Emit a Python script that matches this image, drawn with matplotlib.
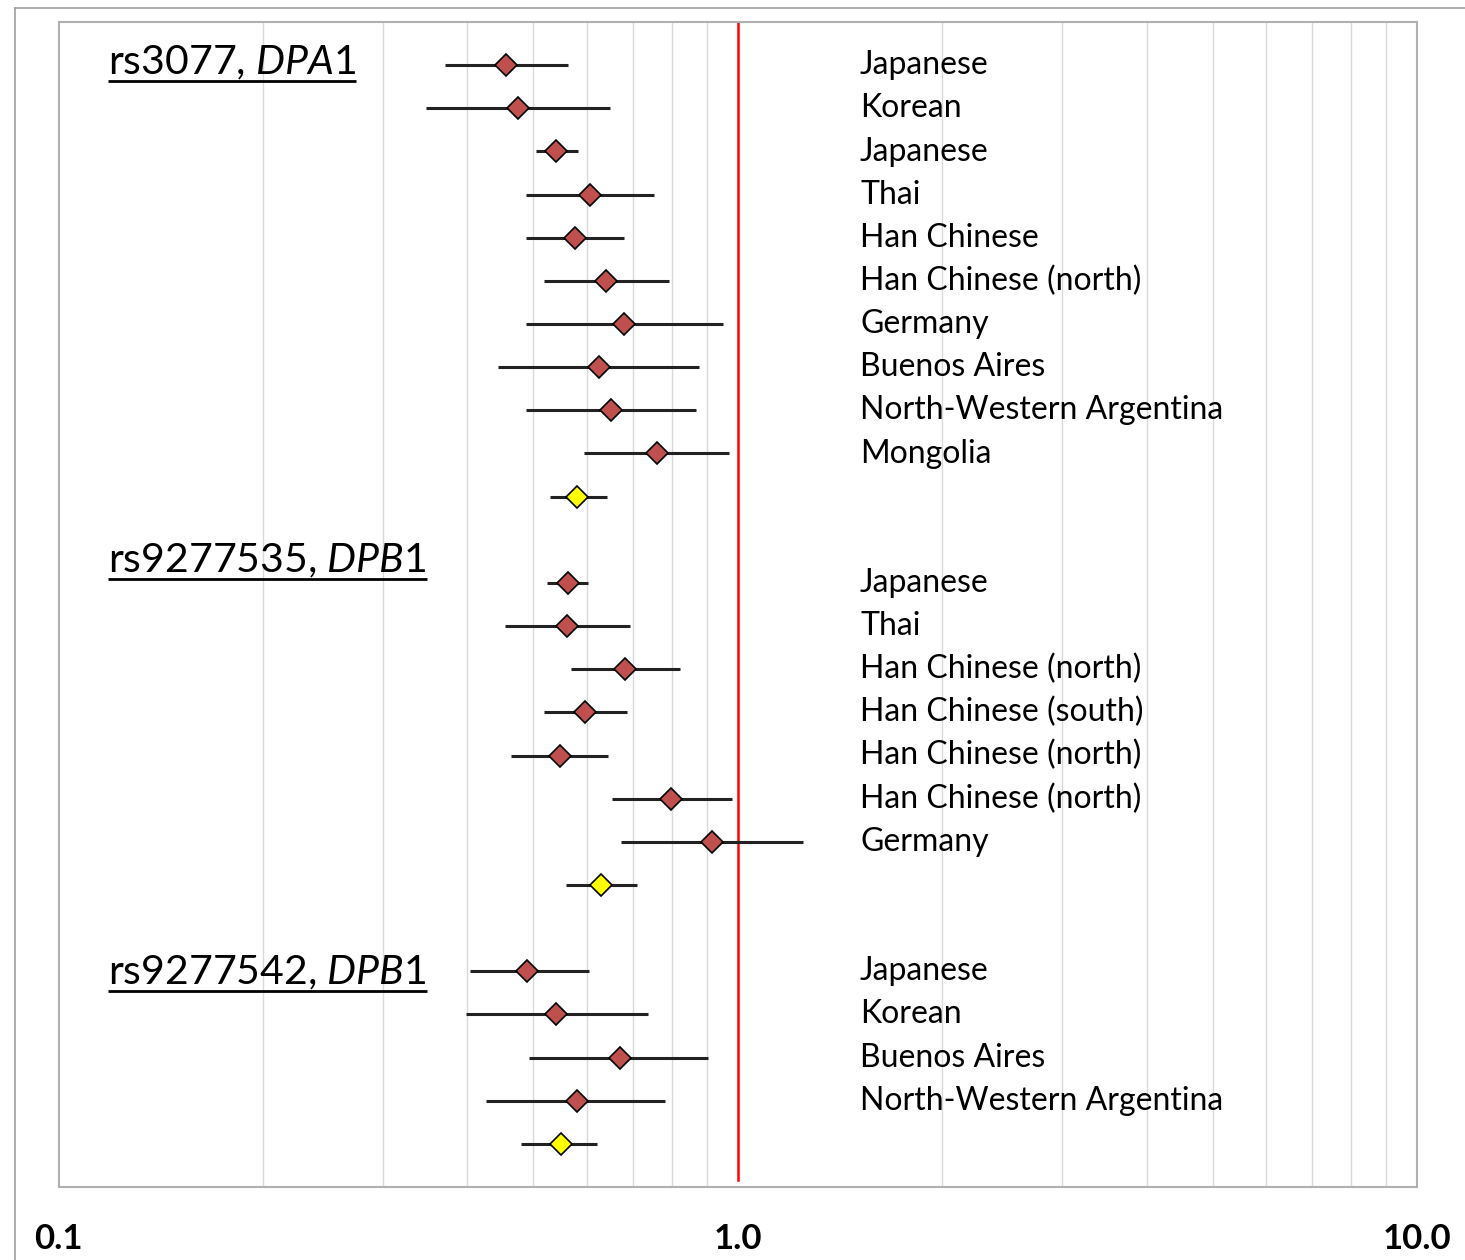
import numpy as np
import matplotlib
matplotlib.use("Agg")
import matplotlib.pyplot as plt
from matplotlib.lines import Line2D
from matplotlib.ticker import LogLocator, NullFormatter, FixedLocator, FixedFormatter

# --- data (odds ratio, lower CI, upper CI) ---
snps = ["rs3077", "rs9277535", "rs9277542"]
genes = ["DPA1", "DPB1", "DPB1"]

g1_labels = ["Japanese", "Korean", "Japanese", "Thai", "Han Chinese",
             "Han Chinese (north)", "Germany", "Buenos Aires",
             "North-Western Argentina", "Mongolia"]
g1_or = [0.456, 0.474, 0.540, 0.605, 0.575, 0.640, 0.681, 0.624, 0.650, 0.760]
g1_lo = [0.371, 0.347, 0.504, 0.487, 0.488, 0.519, 0.487, 0.444, 0.488, 0.593]
g1_hi = [0.562, 0.648, 0.581, 0.754, 0.680, 0.793, 0.952, 0.876, 0.869, 0.972]
g1_pooled = [0.579, 0.529, 0.641]

g2_labels = ["Japanese", "Thai", "Han Chinese (north)", "Han Chinese (south)",
             "Han Chinese (north)", "Han Chinese (north)", "Germany"]
g2_or = [0.562, 0.561, 0.683, 0.596, 0.547, 0.798, 0.917]
g2_lo = [0.523, 0.454, 0.569, 0.519, 0.464, 0.652, 0.674]
g2_hi = [0.602, 0.693, 0.823, 0.686, 0.645, 0.982, 1.249]
g2_pooled = [0.630, 0.559, 0.711]

g3_labels = ["Japanese", "Korean", "Buenos Aires", "North-Western Argentina"]
g3_or = [0.490, 0.540, 0.671, 0.579]
g3_lo = [0.403, 0.398, 0.493, 0.426]
g3_hi = [0.603, 0.738, 0.904, 0.782]
g3_pooled = [0.550, 0.479, 0.621]

xticks = [0.1, 1.0, 10.0]
xtick_labels = ["0.1", "1.0", "10.0"]

groups = [
    (g1_labels, g1_or, g1_lo, g1_hi, g1_pooled),
    (g2_labels, g2_or, g2_lo, g2_hi, g2_pooled),
    (g3_labels, g3_or, g3_lo, g3_hi, g3_pooled),
]
title_shift = [0.21, -0.24, 0.3]   # title baseline relative to first row

plt.rcParams["font.family"] = ["Lato", "DejaVu Sans"]
plt.rcParams["mathtext.fontset"] = "custom"
plt.rcParams["mathtext.rm"] = "Lato"
plt.rcParams["mathtext.it"] = "Lato:italic"

W, H = 1465, 1260
fig = plt.figure(figsize=(W / 100, H / 100), dpi=100)
ax = fig.add_axes([58.5 / W, 1 - 1187 / H, (1417 - 58.5) / W, (1187 - 22) / H])

red = "#C0504D"
bar_col = "#222222"
label_x = (860 - 58.5) / (1417 - 58.5)
title_x = (108 - 58.5) / (1417 - 58.5)
blend = matplotlib.transforms.blended_transform_factory(ax.transAxes, ax.transData)

titles = []
row = 0
for gi, (labels, ors, los, his, pooled) in enumerate(groups):
    n = len(labels)
    rows = np.arange(row, row + n)
    ors = np.array(ors)
    los = np.array(los)
    his = np.array(his)
    ax.hlines(rows, los, his, color=bar_col, lw=2.2, zorder=3)
    ax.plot(ors, rows, "D", ms=11.5, mfc=red, mec="black", mew=1.2, zorder=4)
    # pooled estimate
    ax.hlines(row + n, pooled[1], pooled[2], color=bar_col, lw=2.2, zorder=3)
    ax.plot(pooled[0], row + n, "D", ms=11.5, mfc="#FFFF00", mec="black", mew=1.2, zorder=4)
    for r, lab in zip(rows, labels):
        ax.text(label_x, r + 0.21, lab, transform=blend, fontsize=23,
                va="baseline", ha="left", color="black")
    t = ax.text(title_x, row + title_shift[gi], snps[gi] + ", $\\mathit{" + genes[gi] + "}$",
                transform=blend, fontsize=29.5, va="baseline", ha="left")
    titles.append((t, row + title_shift[gi]))
    row += n + 2

ax.axvline(1.0, ymin=0.006, ymax=1, color="#FF0000", lw=1.8, zorder=2)

ax.set_xscale("log")
ax.set_xlim(0.1, 10)
ax.set_ylim(row - 1, -1)
ax.xaxis.set_major_locator(FixedLocator(xticks))
ax.xaxis.set_major_formatter(FixedFormatter(xtick_labels))
ax.xaxis.set_minor_locator(LogLocator(base=10, subs=np.arange(2, 10)))
ax.xaxis.set_minor_formatter(NullFormatter())
ax.grid(True, which="minor", axis="x", color="#d9d9d9", lw=1.0, zorder=0)
ax.set_yticks([])
ax.tick_params(axis="x", which="both", length=0, pad=26)
for lab in ax.get_xticklabels():
    lab.set_fontweight("bold")
    lab.set_fontsize(25)
for s in ax.spines.values():
    s.set_color("#b0b0b0")
    s.set_linewidth(1.5)

# underline the section titles
fig.canvas.draw()
renderer = fig.canvas.get_renderer()
inv = ax.transData.inverted()
for t, base in titles:
    bb = t.get_window_extent(renderer)
    x0 = inv.transform((bb.x0, 0))[0]
    x1 = inv.transform((bb.x1, 0))[0]
    ax.plot([x0, x1], [base + 0.15, base + 0.15], color="black", lw=2.0,
            solid_capstyle="butt", zorder=3)

# outer frame of the original picture
fig.add_artist(Line2D([15 / W, 1], [1 - 8 / H, 1 - 8 / H], transform=fig.transFigure,
                      color="#a0a0a0", lw=1.2))
fig.add_artist(Line2D([15 / W, 15 / W], [0, 1 - 8 / H], transform=fig.transFigure,
                      color="#a0a0a0", lw=1.2))

fig.savefig("out.png", dpi=100)
